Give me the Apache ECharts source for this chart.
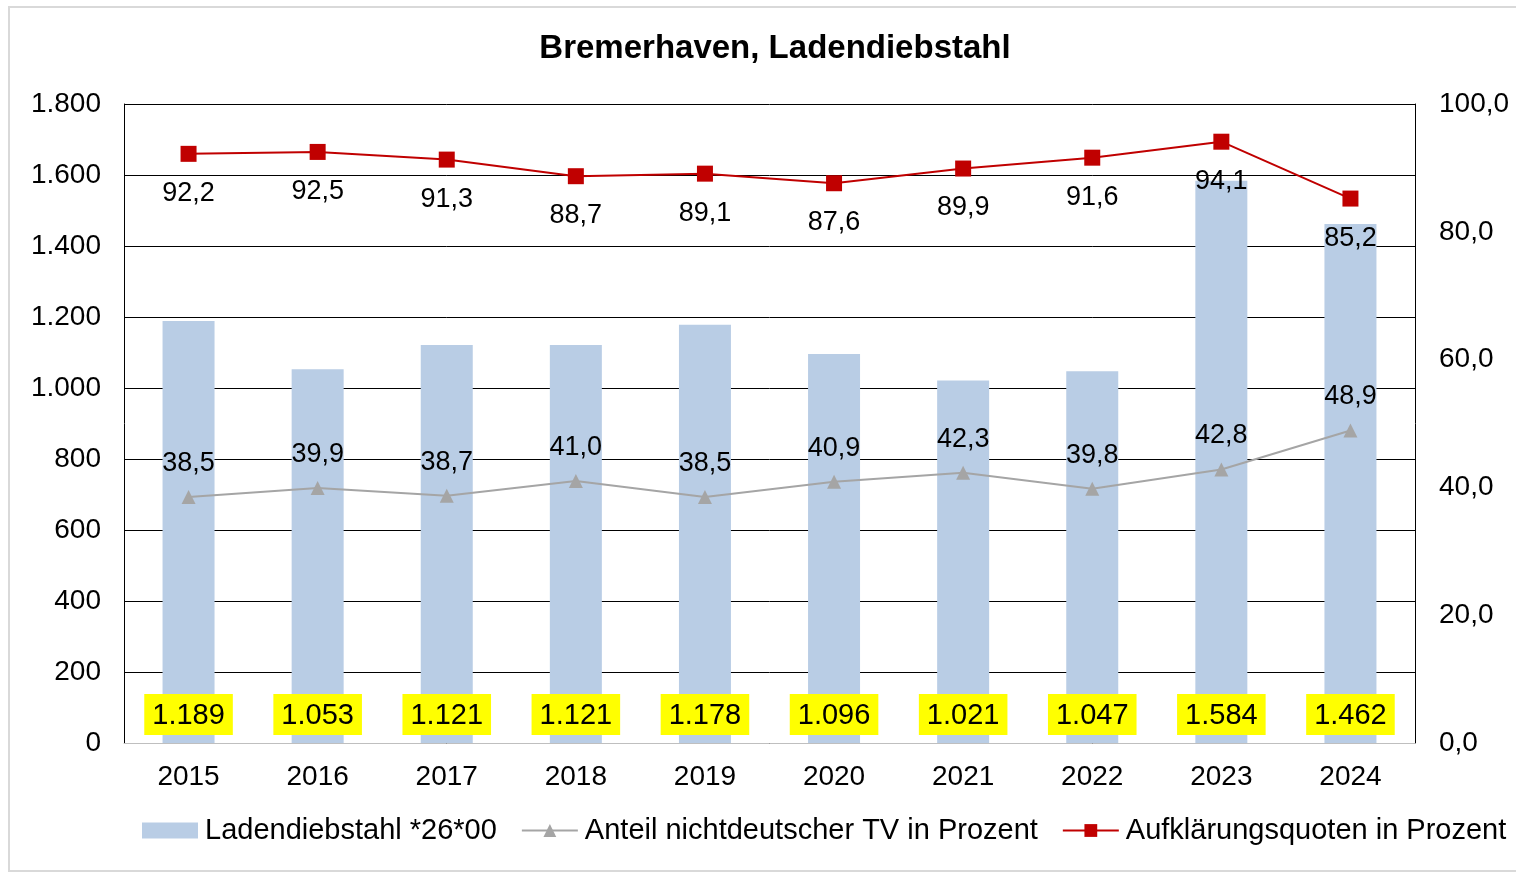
<!DOCTYPE html>
<html><head><meta charset="utf-8">
<script src="https://cdn.jsdelivr.net/npm/echarts@6/dist/echarts.min.js"></script>
<style>html,body{margin:0;padding:0;background:#fff}#c{width:1516px;height:874px}</style>
</head><body><div id="c"></div>
<script>
const years = ['2015','2016','2017','2018','2019','2020','2021','2022','2023','2024'];
const ladendiebstahl = [1189,1053,1121,1121,1178,1096,1021,1047,1584,1462];
const anteilNichtdeutsch = [38.5,39.9,38.7,41.0,38.5,40.9,42.3,39.8,42.8,48.9];
const aufklaerung = [92.2,92.5,91.3,88.7,89.1,87.6,89.9,91.6,94.1,85.2];
const leftTicks = [0,200,400,600,800,1000,1200,1400,1600,1800];

const FF = '"Liberation Sans", Arial, sans-serif';
const deInt = v => String(v).replace(/\B(?=(\d{3})+(?!\d))/g, '.');
const deDec = v => v.toFixed(1).replace('.', ',');

const chart = echarts.init(document.getElementById('c'), null, {renderer:'canvas'});
chart.setOption({
  animation:false,
  backgroundColor:'#fff',
  graphic:[{type:'rect', shape:{x:9,y:7,width:1520,height:864}, style:{fill:'none', stroke:'#d9d9d9', lineWidth:2}, silent:true, z:-1}],
  title:{text:'Bremerhaven, Ladendiebstahl', left:770, textAlign:'center', top:27,
    textStyle:{fontFamily:FF, fontSize:33, fontWeight:'bold', color:'#000'}},
  grid:{left:124, right:101, top:104, bottom:131},
  legend:{left:137, top:811, width:1378, padding:5, itemWidth:56, itemHeight:16, itemGap:24,
    textStyle:{fontFamily:FF, fontSize:29, color:'#000', padding:[0,0,0,2]},
    data:[{name:'Ladendiebstahl *26*00', icon:'rect'},'Anteil nichtdeutscher TV in Prozent','Aufklärungsquoten in Prozent']},
  xAxis:{type:'category', data:years,
    axisLine:{lineStyle:{color:'#bfbfbf', width:1}}, axisTick:{show:false},
    axisLabel:{fontFamily:FF, fontSize:28, color:'#000', margin:20}},
  yAxis:[
    {type:'value', min:0, max:1800, interval:200,
      axisLine:{show:true, lineStyle:{color:'#000'}}, axisTick:{show:false},
      splitLine:{lineStyle:{color:'#000', width:1}},
      axisLabel:{fontFamily:FF, fontSize:28, color:'#000', margin:23, formatter:v=>deInt(v)}},
    {type:'value', min:0, max:100, interval:20,
      axisLine:{show:true, lineStyle:{color:'#000'}}, axisTick:{show:false},
      splitLine:{show:false},
      axisLabel:{fontFamily:FF, fontSize:28, color:'#000', margin:24, formatter:v=>deDec(v)}}
  ],
  series:[
    {name:'Ladendiebstahl *26*00', type:'bar', data:ladendiebstahl, barWidth:52,
      itemStyle:{color:'#b9cde5'},
      label:{show:true, position:'insideBottom', distance:8, formatter:p=>deInt(p.value),
        fontFamily:FF, fontSize:29, color:'#000', backgroundColor:'#ffff00', padding:[7,8,5,8]}},
    {name:'Anteil nichtdeutscher TV in Prozent', type:'line', yAxisIndex:1, data:anteilNichtdeutsch,
      symbol:'triangle', symbolSize:14, lineStyle:{color:'#a5a5a5', width:2}, itemStyle:{color:'#a5a5a5'},
      label:{show:true, position:'top', distance:13, formatter:p=>deDec(p.value),
        fontFamily:FF, fontSize:27, color:'#000'}},
    {name:'Aufklärungsquoten in Prozent', type:'line', yAxisIndex:1, data:aufklaerung,
      symbol:'rect', symbolSize:16, lineStyle:{color:'#c00000', width:2}, itemStyle:{color:'#c00000'},
      label:{show:true, position:'bottom', distance:18, formatter:p=>deDec(p.value),
        fontFamily:FF, fontSize:27, color:'#000'}}
  ]
});
</script></body></html>
